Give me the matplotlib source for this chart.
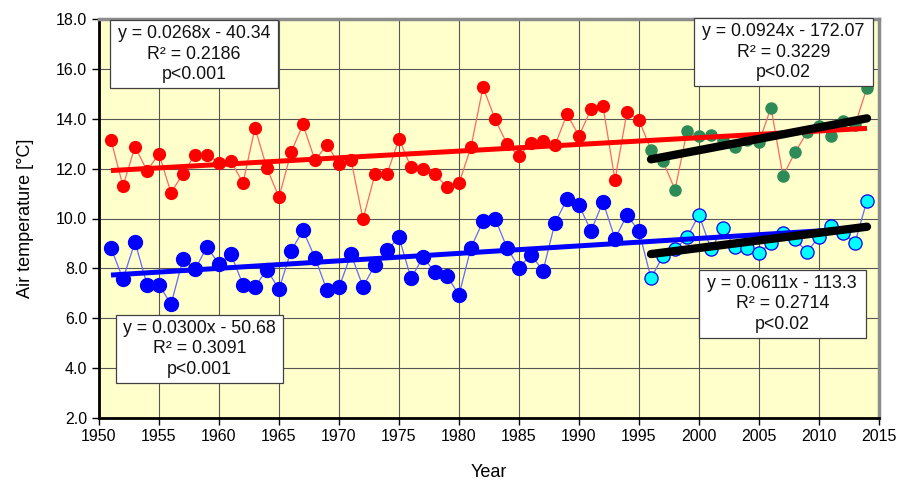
import numpy as np
import matplotlib
matplotlib.use("Agg")
import matplotlib.pyplot as plt
from matplotlib.patches import Rectangle

plt.rcParams['font.family'] = ['Liberation Sans', 'DejaVu Sans']

years_early = list(range(1951, 1996))
years_late = list(range(1996, 2015))

red_early = [13.15, 11.3, 12.88, 11.92, 12.59, 11.03, 11.8, 12.56, 12.56, 12.24,
             12.29, 11.43, 13.63, 12.01, 10.85, 12.65, 13.77, 12.33, 12.96, 12.19,
             12.36, 9.97, 11.78, 11.78, 13.19, 12.06, 11.97, 11.78, 11.25, 11.41,
             12.87, 15.27, 13.99, 12.99, 12.5, 13.04, 13.12, 12.93, 14.19, 13.31,
             14.38, 14.5, 11.54, 14.28, 13.95]
green_late = [12.75, 12.3, 11.15, 13.5, 13.3, 13.35, 13.15, 12.85, 13.15, 13.05,
              14.45, 11.7, 12.65, 13.45, 13.7, 13.3, 13.9, 13.75, 15.25]

blue_early = [8.82, 7.57, 9.06, 7.35, 7.35, 6.56, 8.37, 7.96, 8.86, 8.17,
              8.56, 7.35, 7.27, 7.95, 7.16, 8.7, 9.52, 8.43, 7.12, 7.24,
              8.56, 7.27, 8.13, 8.73, 9.25, 7.6, 8.44, 7.85, 7.7, 6.93,
              8.83, 9.89, 10.0, 8.83, 8.03, 8.55, 7.9, 9.83, 10.77, 10.54,
              9.5, 10.67, 9.19, 10.14, 9.49]
cyan_late = [7.61, 8.5, 8.76, 9.25, 10.14, 8.78, 9.6, 8.85, 8.82, 8.63,
             9.0, 9.41, 9.17, 8.66, 9.27, 9.71, 9.41, 9.03, 10.72]

x_ticks = list(range(1950, 2016, 5))
y_ticks = [2.0, 4.0, 6.0, 8.0, 10.0, 12.0, 14.0, 16.0, 18.0]

box_texts = {
    'red': "y = 0.0268x - 40.34\nR² = 0.2186\np<0.001",
    'green': "y = 0.0924x - 172.07\nR² = 0.3229\np<0.02",
    'blue': "y = 0.0300x - 50.68\nR² = 0.3091\np<0.001",
    'cyan': "y = 0.0611x - 113.3\nR² = 0.2714\np<0.02",
}

fig = plt.figure(figsize=(9.07, 4.83), dpi=100)
ax = fig.add_axes([99/907, 65/483, 780/907, 399/483])
ax.set_facecolor('#FFFFCC')

all_years = np.array(years_early + years_late)
red_all = np.array(red_early + green_late)
blue_all = np.array(blue_early + cyan_late)
yl = np.array(years_late)

# thin connecting lines
ax.plot(all_years, red_all, color='#FF6666', lw=0.9, zorder=3)
ax.plot(all_years, blue_all, color='#6666FF', lw=0.9, zorder=3)

# markers
ax.plot(years_early, red_early, 'o', color='#FF0000', ms=8.5, mec='#FF0000', zorder=4)
ax.plot(years_late, green_late, 'o', color='#2E8B57', ms=8, mec='#2E8B57', zorder=4)
ax.plot(years_early, blue_early, 'o', color='#0000FF', ms=10, mec='#0000FF', zorder=4)
ax.plot(years_late, cyan_late, 'o', color='#00FFFF', ms=9.5, mec='#0000EE', mew=0.9, zorder=4)

# trend lines
def trend(x, y):
    c = np.polyfit(x, y, 1)
    return np.array([x[0], x[-1]]), np.polyval(c, [x[0], x[-1]])

tx, ty = trend(all_years, red_all)
ax.plot(tx, ty, color='#FF0000', lw=3.6, solid_capstyle='butt', zorder=5)
tx, ty = trend(all_years, blue_all)
ax.plot(tx, ty, color='#0000FF', lw=3.6, solid_capstyle='butt', zorder=5)
tx, ty = trend(yl, np.array(green_late))
ax.plot(tx, ty, color='black', lw=6, solid_capstyle='round', zorder=6)
tx, ty = trend(yl, np.array(cyan_late))
ax.plot(tx, ty, color='black', lw=6, solid_capstyle='round', zorder=6)

ax.set_xlim(1950, 2015)
ax.set_ylim(2, 18)
ax.set_xticks(x_ticks)
ax.set_yticks(y_ticks)
ax.set_yticklabels([f"{v:.1f}" for v in y_ticks])
ax.grid(True, color='#555555', lw=0.8, zorder=1)
ax.set_axisbelow(True)
ax.tick_params(axis='both', labelsize=11.5, direction='out', length=5, width=1, color='black')
ax.tick_params(axis='x', pad=3)

for s in ['left', 'bottom']:
    ax.spines[s].set_color('black')
    ax.spines[s].set_linewidth(2)
for s in ['top', 'right']:
    ax.spines[s].set_color('#8C8C8C')
    ax.spines[s].set_linewidth(2.5)

ax.set_xlabel('Year', fontsize=13, labelpad=14)
ax.set_ylabel('Air temperature [°C]', fontsize=13, labelpad=16)

boxes = [
    ('red', 0.0141, 0.827, 0.2154, 0.1705),
    ('green', 0.7628, 0.832, 0.2295, 0.1705),
    ('blue', 0.0218, 0.0877, 0.2141, 0.1705),
    ('cyan', 0.769, 0.2005, 0.214, 0.1705),
]
for key, x0, y0, w, h in boxes:
    r = Rectangle((x0, y0), w, h, transform=ax.transAxes, facecolor='white',
                  edgecolor='#404040', lw=0.9, zorder=8, clip_on=False)
    ax.add_patch(r)
    ax.text(x0 + w/2, y0 + h/2, box_texts[key], transform=ax.transAxes,
            ha='center', va='center', multialignment='center', fontsize=12.8,
            linespacing=1.25, color='#111111', zorder=9)

fig.savefig('out.png', dpi=100)
